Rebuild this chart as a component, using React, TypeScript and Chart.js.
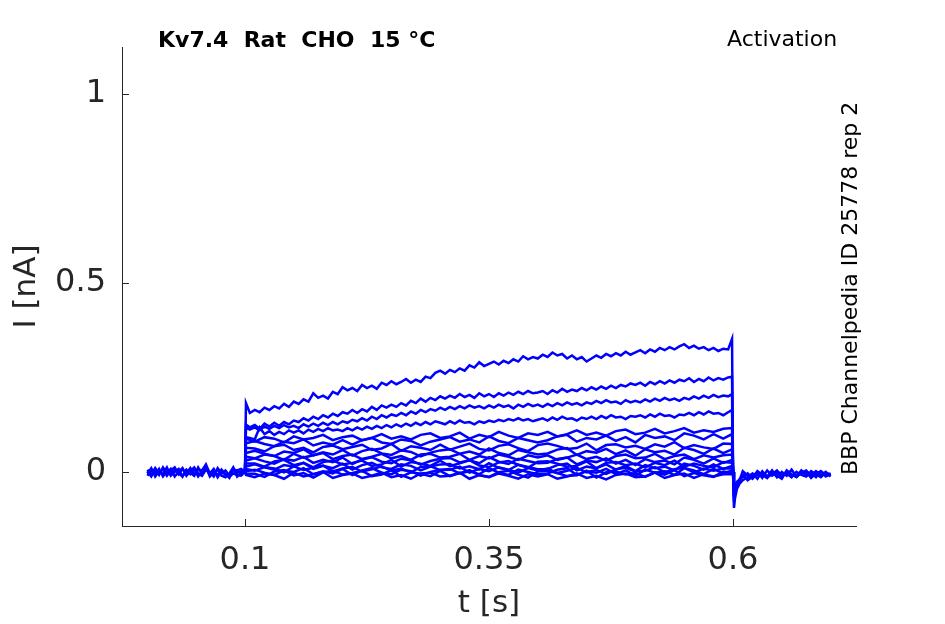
import React, { useEffect, useRef } from "react";
import { Chart, registerables } from "chart.js";

Chart.register(...registerables);

// x ticks and y ticks shown on the axes
const xTicks = [0.1, 0.35, 0.6];
const yTicks = [0, 0.5, 1];

// sample times (s)
const baseTimes = [
  0, 0.004, 0.008, 0.012, 0.016, 0.02, 0.024, 0.028, 0.032, 0.036, 0.04, 0.044, 0.048,
  0.052, 0.056, 0.06, 0.064, 0.068, 0.072, 0.076, 0.08, 0.084, 0.088, 0.092, 0.096, 0.1,
];
const fineTimes = [
  0.1, 0.101,
  0.105, 0.11, 0.115, 0.12, 0.125, 0.13, 0.135, 0.14, 0.145, 0.15,
  0.155, 0.16, 0.165, 0.17, 0.175, 0.18, 0.185, 0.19, 0.195, 0.2,
  0.205, 0.21, 0.215, 0.22, 0.225, 0.23, 0.235, 0.24, 0.245, 0.25,
  0.255, 0.26, 0.265, 0.27, 0.275, 0.28, 0.285, 0.29, 0.295, 0.3,
  0.305, 0.31, 0.315, 0.32, 0.325, 0.33, 0.335, 0.34, 0.345, 0.35,
  0.355, 0.36, 0.365, 0.37, 0.375, 0.38, 0.385, 0.39, 0.395, 0.4,
  0.405, 0.41, 0.415, 0.42, 0.425, 0.43, 0.435, 0.44, 0.445, 0.45,
  0.455, 0.46, 0.465, 0.47, 0.475, 0.48, 0.485, 0.49, 0.495, 0.5,
  0.505, 0.51, 0.515, 0.52, 0.525, 0.53, 0.535, 0.54, 0.545, 0.55,
  0.555, 0.56, 0.565, 0.57, 0.575, 0.58, 0.585, 0.59, 0.595,
  0.599, 0.6,
];
const pulseTimes = [
  0.1, 0.101,
  0.11, 0.12, 0.13, 0.14, 0.15, 0.16, 0.17, 0.18, 0.19, 0.2,
  0.21, 0.22, 0.23, 0.24, 0.25, 0.26, 0.27, 0.28, 0.29, 0.3,
  0.31, 0.32, 0.33, 0.34, 0.35, 0.36, 0.37, 0.38, 0.39, 0.4,
  0.41, 0.42, 0.43, 0.44, 0.45, 0.46, 0.47, 0.48, 0.49, 0.5,
  0.51, 0.52, 0.53, 0.54, 0.55, 0.56, 0.57, 0.58, 0.59,
  0.599, 0.6,
];
const postTimes = [
  0.6, 0.601, 0.602, 0.604, 0.607, 0.61, 0.615, 0.62, 0.625, 0.63, 0.635, 0.64, 0.645,
  0.65, 0.655, 0.66, 0.665, 0.67, 0.675, 0.68, 0.685, 0.69, 0.695, 0.7,
];

// holding current before the step (pA)
const baseA = [6, -8, 10, -4, 8, -10, 4, 12, -6, 8, -4, 10, -8, 6, 4, 20, -4, 8, -10, 6, -6, -16, 6, 4, 8, 0];
const baseB = [-10, 4, -6, 8, -12, 2, -8, 6, -4, -12, 4, -6, 8, -12, 2, 10, -8, 4, -14, 2, -8, -12, -4, -8, -10, 0];
const baseC = [2, -12, 6, -8, 12, -2, 8, -12, 0, 10, -10, 2, 12, -4, -10, 6, 0, -12, 10, -4, 4, -10, 10, -2, 2, 0];
const baseD = [-4, 10, -12, 2, -6, 12, -10, 0, 8, -12, 6, -2, -10, 12, -6, 14, -12, -2, 6, -10, -14, -4, 12, -12, -2, 0];

// current during the largest voltage steps (pA), sampled on fineTimes
const step1 = [0, 182,
  156, 164, 158, 170, 164, 174, 168, 180, 172, 186,
  180, 192, 186, 208, 196, 202, 194, 212, 206, 224,
  216, 222, 214, 230, 222, 228, 220, 236, 230, 240,
  232, 238, 246, 236, 244, 238, 252, 248, 262, 268,
  260, 270, 264, 274, 268, 282, 276, 290, 280, 286,
  292, 284, 294, 288, 298, 292, 306, 298, 304, 300,
  310, 304, 316, 308, 312, 300, 308, 298, 304, 292,
  300, 308, 302, 312, 306, 314, 308, 318, 310, 316,
  322, 314, 324, 318, 328, 322, 330, 324, 332, 338,
  328, 334, 326, 330, 322, 328, 320, 326, 324,
  352, 0];
const step2 = [0, 125,
  118, 124, 114, 128, 120, 130, 122, 132, 126, 136,
  132, 142, 136, 146, 140, 150, 144, 154, 148, 158,
  154, 164, 156, 166, 160, 172, 164, 176, 170, 178,
  172, 182, 176, 188, 182, 194, 186, 196, 190, 200,
  194, 202, 196, 206, 198, 204, 196, 208, 200, 206,
  198, 208, 202, 210, 204, 212, 206, 214, 208, 210,
  214, 206, 216, 210, 220, 212, 218, 214, 222, 216,
  224, 218, 226, 220, 228, 222, 230, 226, 234, 230,
  236, 228, 238, 232, 240, 234, 242, 236, 244, 240,
  248, 238, 246, 240, 250, 242, 248, 244, 250,
  252, 0];
const step3 = [0, 118,
  112, 118, 110, 120, 114, 122, 116, 124, 118, 122,
  116, 126, 120, 128, 122, 130, 124, 132, 126, 134,
  130, 138, 134, 142, 136, 146, 140, 150, 144, 152,
  148, 156, 150, 160, 154, 164, 158, 166, 162, 170,
  164, 172, 166, 174, 168, 176, 170, 174, 168, 176,
  170, 178, 172, 176, 168, 178, 172, 180, 174, 178,
  172, 180, 174, 182, 176, 184, 178, 182, 176, 184,
  180, 188, 182, 190, 184, 186, 180, 190, 184, 188,
  184, 192, 186, 194, 188, 196, 190, 194, 188, 196,
  192, 200, 194, 202, 196, 204, 198, 202, 200,
  206, 0];
const step4 = [0, 92,
  90, 86, 118, 100, 108, 98, 106, 100, 110, 104,
  110, 102, 112, 106, 114, 108, 116, 110, 112, 108,
  116, 110, 118, 112, 120, 114, 122, 116, 124, 118,
  126, 120, 128, 122, 130, 124, 132, 126, 134, 130,
  126, 134, 128, 136, 130, 132, 126, 134, 130, 136,
  132, 138, 134, 140, 136, 142, 136, 140, 134, 138,
  142, 136, 144, 138, 146, 140, 142, 136, 144, 140,
  146, 140, 148, 142, 150, 144, 146, 140, 148, 146,
  150, 144, 152, 146, 154, 148, 150, 144, 152, 150,
  156, 150, 158, 152, 160, 154, 156, 150, 158,
  164, 0];

// current during the smaller voltage steps (pA), sampled on pulseTimes
const step5 = [0, 88,
  80, 92, 88, 78, 94, 86, 90, 98, 84, 92,
  96, 84, 90, 100, 88, 94, 86, 98, 102, 90,
  94, 104, 88, 98, 92, 106, 96, 90, 102, 98,
  106, 94, 100, 110, 98, 104, 96, 108, 112, 100,
  104, 114, 102, 108, 116, 104, 110, 106, 114,
  116, 0];
const step6 = [0, 76,
  82, 74, 68, 80, 76, 86, 70, 78, 72, 84,
  72, 84, 90, 78, 74, 86, 82, 70, 80, 86,
  92, 80, 86, 78, 94, 82, 76, 90, 84, 78,
  84, 94, 98, 80, 90, 86, 96, 82, 92, 78,
  98, 90, 94, 84, 102, 96, 86, 100, 88,
  100, 0];
const step7 = [0, 64,
  62, 54, 68, 72, 58, 64, 52, 66, 70, 60,
  66, 72, 58, 62, 74, 56, 68, 64, 58, 72,
  59, 67, 75, 61, 57, 69, 73, 63, 55, 71,
  75, 69, 61, 63, 75, 57, 71, 73, 65, 69,
  61, 73, 67, 79, 63, 71, 65, 61, 75,
  74, 0];
const step8 = [0, 50,
  56, 48, 42, 54, 50, 60, 44, 52, 46, 58,
  43, 55, 61, 49, 45, 57, 53, 41, 51, 57,
  60, 48, 54, 46, 62, 50, 44, 58, 52, 46,
  49, 59, 63, 45, 55, 51, 61, 47, 57, 43,
  60, 52, 56, 46, 64, 58, 48, 62, 50,
  60, 0];
const step9 = [0, 40,
  36, 46, 42, 32, 48, 38, 44, 50, 34, 42,
  46, 34, 40, 48, 36, 42, 32, 46, 48, 38,
  40, 48, 32, 42, 36, 46, 40, 32, 44, 38,
  44, 32, 38, 46, 34, 40, 30, 42, 46, 36,
  38, 48, 34, 42, 46, 34, 44, 38, 44,
  46, 0];
const step10 = [0, 30,
  36, 28, 22, 34, 30, 40, 24, 32, 26, 38,
  21, 33, 39, 27, 23, 35, 31, 19, 29, 35,
  37, 25, 31, 23, 39, 27, 21, 35, 29, 23,
  24, 34, 38, 20, 30, 26, 36, 22, 32, 18,
  34, 26, 30, 20, 38, 32, 22, 36, 24,
  32, 0];
const step11 = [0, 22,
  22, 14, 28, 32, 18, 24, 12, 26, 30, 20,
  24, 30, 16, 20, 32, 14, 26, 22, 16, 30,
  15, 23, 31, 17, 13, 25, 29, 19, 11, 27,
  28, 22, 14, 16, 28, 10, 24, 26, 18, 22,
  12, 24, 18, 30, 14, 22, 16, 12, 26,
  24, 0];
const step12 = [0, 14,
  20, 12, 6, 18, 14, 24, 8, 16, 10, 22,
  6, 18, 24, 12, 8, 20, 16, 4, 14, 20,
  21, 9, 15, 7, 23, 11, 5, 19, 13, 7,
  8, 18, 22, 4, 14, 10, 20, 6, 16, 2,
  18, 10, 14, 4, 22, 16, 6, 20, 8,
  16, 0];
const step13 = [0, 8,
  3, 13, 9, -1, 15, 5, 11, 17, 1, 9,
  13, 1, 7, 15, 3, 9, -1, 13, 15, 5,
  6, 14, -2, 8, 2, 12, 6, -2, 10, 4,
  9, -3, 3, 11, -1, 5, -5, 7, 11, 1,
  3, 13, -1, 7, 11, -1, 9, 3, 9,
  9, 0];
const step14 = [0, 2,
  6, -2, -8, 4, 0, 10, -6, 2, -4, 8,
  -8, 4, 10, -2, -6, 6, 2, -10, 0, 6,
  8, -4, 2, -6, 10, -2, -8, 6, 0, -6,
  -4, 6, 10, -8, 2, -2, 8, -6, 4, -10,
  6, -2, 2, -8, 10, 4, -6, 8, -4,
  4, 0];
const step15 = [0, -4,
  -5, -13, 1, 5, -9, -3, -15, -1, 3, -7,
  -3, 3, -11, -7, 5, -13, -1, -5, -11, 3,
  -11, -3, 5, -9, -13, -1, 3, -7, -15, 1,
  3, -3, -11, -9, 3, -15, -1, 1, -7, -3,
  -13, -1, -7, 5, -11, -3, -9, -13, 1,
  -2, 0];
const step16 = [0, -8,
  -14, -4, -8, -18, -2, -12, -6, 0, -16, -8,
  -4, -16, -10, -2, -14, -8, -18, -4, -2, -12,
  -10, -2, -18, -8, -14, -4, -10, -18, -6, -12,
  -6, -18, -12, -4, -16, -10, -20, -8, -4, -14,
  -12, -2, -16, -8, -4, -16, -6, -12, -6,
  -6, 0];

// tail current after the step (pA)
const postA = [0, -95, -70, -45, -30, -22, -14, -4, -18, 2, -12, 4, -14, 0, -10, 6, -12, -2, 4, -10, 2, -8, 0, -12];
const postB = [0, -80, -55, -38, -24, -6, -22, -12, 0, -16, 4, -10, -2, -14, 2, -8, -12, 4, -10, -2, -14, 2, -8, -4];
const postC = [0, -70, -50, -32, -18, -14, -4, -16, -8, -2, -14, -6, 4, -10, -4, -14, 0, -8, -12, 2, -6, -14, -2, -8];
const postD = [0, -60, -42, -26, -20, 2, -10, -18, 2, -8, -16, 0, -10, -18, 4, -6, -14, -2, 0, -16, -4, 2, -12, -6];

const baseRuns = [baseA, baseB, baseC, baseD];
const fineSteps = [step1, step2, step3, step4];
const coarseSteps = [step5, step6, step7, step8, step9, step10, step11, step12, step13, step14, step15, step16];
const postRuns = [postA, postB, postC, postD];

const FONT = "'DejaVu Sans', sans-serif";
const AXIS = "#262626";
const BLUE = "#0000ff";

const toPoints = (times: number[], pa: number[]) =>
  times.map((t, i) => ({ x: t, y: pa[i] / 1000 }));

const insideTicks = {
  id: "insideTicks",
  afterDraw(chart: any) {
    const { ctx, chartArea, scales } = chart;
    ctx.save();
    ctx.strokeStyle = AXIS;
    ctx.lineWidth = 1;
    ctx.beginPath();
    xTicks.forEach((v) => {
      const px = Math.round(scales.x.getPixelForValue(v)) + 0.5;
      ctx.moveTo(px, chartArea.bottom);
      ctx.lineTo(px, chartArea.bottom - 7);
    });
    yTicks.forEach((v) => {
      const py = Math.round(scales.y.getPixelForValue(v)) + 0.5;
      ctx.moveTo(chartArea.left, py);
      ctx.lineTo(chartArea.left + 7, py);
    });
    ctx.stroke();
    ctx.restore();
  },
};

const labels = {
  id: "labels",
  afterDraw(chart: any) {
    const { ctx } = chart;
    ctx.save();
    ctx.fillStyle = "#000";
    ctx.textBaseline = "alphabetic";
    ctx.textAlign = "left";
    ctx.font = `bold 22px ${FONT}`;
    ctx.fillText("Kv7.4  Rat  CHO  15 °C", 158, 47);
    ctx.font = `22px ${FONT}`;
    ctx.fillText("Activation", 727, 46);
    ctx.translate(857, 475);
    ctx.rotate(-Math.PI / 2);
    ctx.fillText("BBP Channelpedia ID 25778 rep 2", 0, 0);
    ctx.restore();
  },
};

const App = () => {
  const canvasRef = useRef<HTMLCanvasElement>(null);

  useEffect(() => {
    if (!canvasRef.current) return;
    const ctx = canvasRef.current.getContext("2d");
    if (!ctx) return;

    const line = (data: { x: number; y: number }[]) => ({
      data,
      borderColor: BLUE,
      borderWidth: 2.5,
      pointRadius: 0,
      tension: 0,
      fill: false,
    });

    const datasets = [
      ...baseRuns.map((s) => line(toPoints(baseTimes, s))),
      ...fineSteps.map((s) => line(toPoints(fineTimes, s))),
      ...coarseSteps.map((s) => line(toPoints(pulseTimes, s))),
      ...postRuns.map((s) => line(toPoints(postTimes, s))),
    ];

    const chart = new Chart(ctx, {
      type: "line",
      data: { datasets },
      options: {
        animation: false,
        responsive: false,
        layout: { padding: { left: 0, right: 89, top: 47, bottom: 0 } },
        plugins: { legend: { display: false }, tooltip: { enabled: false } },
        scales: {
          x: {
            type: "linear",
            min: -0.026,
            max: 0.726,
            afterBuildTicks: (s: any) => {
              s.ticks = xTicks.map((value) => ({ value }));
            },
            afterFit: (s: any) => {
              s.height = 98;
            },
            grid: { display: false, drawTicks: false },
            border: { color: AXIS, width: 1 },
            ticks: {
              autoSkip: false,
              maxRotation: 0,
              padding: 15,
              color: AXIS,
              font: { family: FONT, size: 32 },
              callback: (v: any) => String(v),
            },
            title: {
              display: true,
              text: "t [s]",
              color: AXIS,
              font: { family: FONT, size: 31 },
              padding: { top: 0, bottom: 1 },
            },
          },
          y: {
            type: "linear",
            min: -0.143,
            max: 1.124,
            afterBuildTicks: (s: any) => {
              s.ticks = yTicks.map((value) => ({ value }));
            },
            afterFit: (s: any) => {
              s.width = 122;
            },
            grid: { display: false, drawTicks: false },
            border: { color: AXIS, width: 1 },
            ticks: {
              autoSkip: false,
              padding: 16,
              color: AXIS,
              font: { family: FONT, size: 32 },
              callback: (v: any) => String(v),
            },
            title: {
              display: true,
              text: "I [nA]",
              color: AXIS,
              font: { family: FONT, size: 31 },
              padding: { top: 8, bottom: 0 },
            },
          },
        },
      },
      plugins: [insideTicks, labels],
    });

    return () => {
      chart.destroy();
    };
  }, []);

  return (
    <div style={{ position: "absolute", left: 0, top: 0, width: 945, height: 624, background: "#fff" }}>
      <canvas ref={canvasRef} width={945} height={624}></canvas>
    </div>
  );
};

export default App;
